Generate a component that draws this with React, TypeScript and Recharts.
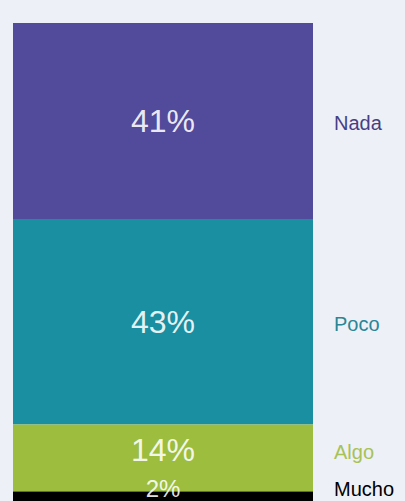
import { BarChart, Bar, XAxis, YAxis, LabelList } from "recharts";

const categories = ["Nada", "Poco", "Algo", "Mucho"];
const shares = [41, 43, 14, 2];
const colors = ["#524a9b", "#1a8fa1", "#9dbd3f", "#000000"];
const nameColors = ["#453f86", "#2a8696", "#a7c256", "#000000"];

const row: Record<string, string | number> = { group: "total" };
categories.forEach((c, i) => {
  row[c] = shares[i];
});
const data = [row];

const FONT = "'Liberation Sans', Arial, sans-serif";

function makeLabel(index: number) {
  return (props: any) => {
    const { x, y, width, height, value } = props;
    const cy = y + height / 2;
    const h = Math.abs(height);
    // thin segments get a smaller label kept inside the window
    const small = h < 30;
    const mid = h < 80 && !small;
    const py = small ? 488 : mid ? cy - 8 : cy;
    return (
      <g>
        <text
          x={x + width / 2}
          y={py}
          textAnchor="middle"
          dominantBaseline="central"
          fontFamily={FONT}
          fontSize={small ? 24 : 32}
          fill="#ffffff"
          fillOpacity={0.9}
        >
          {value}%
        </text>
        <text
          x={x + width + 21}
          y={small ? 489 : py + 2}
          dominantBaseline="central"
          fontFamily={FONT}
          fontSize={20}
          fill={nameColors[index]}
        >
          {categories[index]}
        </text>
      </g>
    );
  };
}

export default function App() {
  return (
    <div style={{ position: "fixed", left: 0, top: 0, width: 405, height: 501, background: "#eef0f7", overflow: "hidden" }}>
      <BarChart
        width={405}
        height={501}
        data={data}
        margin={{ top: 23, right: 92, left: 13, bottom: 0 }}
        barCategoryGap={0}
      >
        <XAxis dataKey="group" hide />
        <YAxis hide reversed domain={[0, 100]} />
        {categories.map((c, i) => (
          <Bar key={c} dataKey={c} stackId="a" fill={colors[i]} isAnimationActive={false}>
            <LabelList dataKey={c} content={makeLabel(i)} />
          </Bar>
        ))}
      </BarChart>
    </div>
  );
}
